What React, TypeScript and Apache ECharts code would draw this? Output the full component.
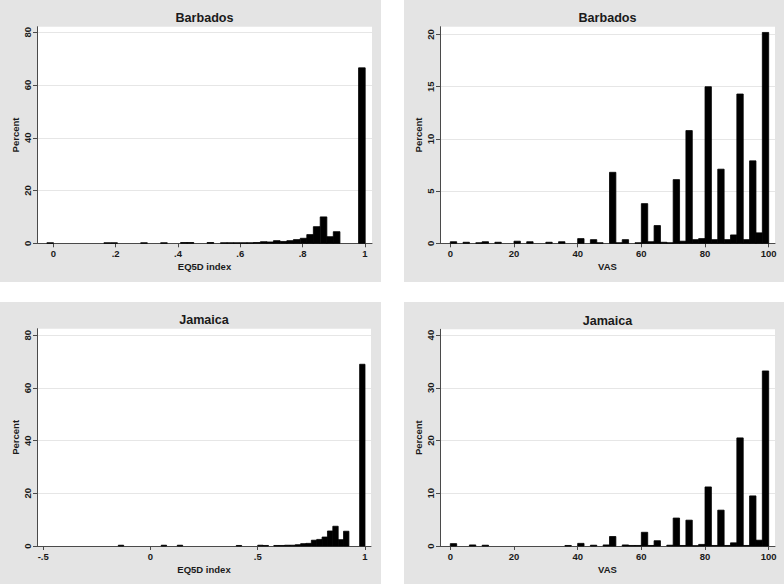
import React, { useEffect, useRef } from 'react';
import * as echarts from 'echarts';

// ---- tick values ----
const eq5dTicksBarbados = [0, 0.2, 0.4, 0.6, 0.8, 1];
const eq5dTicksJamaica = [-0.5, 0, 0.5, 1];
const vasTicks = [0, 20, 40, 60, 80, 100];
const pctTicksEq5d = [0, 20, 40, 60, 80];
const pctTicksVasBarbados = [0, 5, 10, 15, 20];
const pctTicksVasJamaica = [0, 10, 20, 30, 40];

// ---- Barbados EQ5D histogram (bin centres, percent) ----
const eq5dBarbadosBin = 0.0213;
const eq5dBarbadosX = [-0.010, 0.173, 0.195, 0.291, 0.355, 0.419, 0.440, 0.504, 0.547, 0.568, 0.589, 0.611, 0.632, 0.653, 0.675, 0.696, 0.717, 0.739, 0.760, 0.781, 0.803, 0.824, 0.845, 0.867, 0.888, 0.909, 0.990];
const eq5dBarbadosPct = [0.2, 0.2, 0.2, 0.2, 0.2, 0.3, 0.3, 0.3, 0.2, 0.2, 0.2, 0.2, 0.2, 0.3, 0.6, 0.5, 1.0, 0.7, 1.0, 1.4, 1.9, 3.3, 6.3, 10.0, 2.5, 4.4, 66.5];

// ---- Jamaica EQ5D histogram ----
const eq5dJamaicaBin = 0.025;
const eq5dJamaicaX = [-0.1375, 0.0625, 0.1375, 0.4125, 0.5125, 0.5375, 0.5875, 0.6125, 0.6375, 0.6625, 0.6875, 0.7125, 0.7375, 0.7625, 0.7875, 0.8125, 0.8375, 0.8625, 0.8875, 0.9125, 0.9875];
const eq5dJamaicaPct = [0.3, 0.3, 0.3, 0.2, 0.3, 0.2, 0.2, 0.2, 0.3, 0.3, 0.5, 0.9, 1.0, 2.2, 2.5, 3.4, 5.7, 7.5, 2.4, 5.6, 69.0];

// ---- Barbados VAS histogram ----
const vasBin = 2;
const vasBarbadosX = [1, 5, 9, 11, 15, 21, 25, 31, 35, 41, 45, 47, 51, 53, 55, 59, 61, 63, 65, 67, 69, 71, 73, 75, 77, 79, 81, 83, 85, 87, 89, 91, 93, 95, 97, 99];
const vasBarbadosPct = [0.15, 0.1, 0.05, 0.15, 0.1, 0.2, 0.15, 0.1, 0.15, 0.45, 0.35, 0.05, 6.8, 0.05, 0.35, 0.05, 3.8, 0.15, 1.7, 0.1, 0.05, 6.1, 0.2, 10.8, 0.35, 0.45, 15.0, 0.35, 7.1, 0.35, 0.8, 14.3, 0.35, 7.9, 1.0, 20.2];

// ---- Jamaica VAS histogram ----
const vasJamaicaX = [1, 7, 11, 37, 41, 45, 49, 51, 55, 57, 59, 61, 63, 65, 69, 71, 73, 75, 77, 79, 81, 83, 85, 87, 89, 91, 93, 95, 97, 99];
const vasJamaicaPct = [0.45, 0.2, 0.15, 0.1, 0.5, 0.15, 0.2, 1.8, 0.2, 0.1, 0.1, 2.6, 0.1, 1.0, 0.15, 5.3, 0.1, 4.9, 0.05, 0.3, 11.2, 0.1, 6.8, 0.1, 0.6, 20.5, 0.1, 9.5, 1.1, 33.2];

const titles = ['Barbados', 'Barbados', 'Jamaica', 'Jamaica'];
const xNames = ['EQ5D index', 'VAS', 'EQ5D index', 'VAS'];
const yName = 'Percent';

const FONT = '"Liberation Sans", Arial, Helvetica, sans-serif';
const TXT = '#1a1a1a';
const AXIS = '#4a4a4a';
const PANEL = '#e4e4e4';

const panels = [
  { x: 0, y: 0, w: 381, h: 282 },
  { x: 404, y: 0, w: 380, h: 282 },
  { x: 0, y: 302, w: 381, h: 282 },
  { x: 404, y: 302, w: 380, h: 282 },
];
const grids = [
  { left: 37, top: 26.7, width: 335, height: 216.6 },
  { left: 440, top: 26.7, width: 335, height: 216.6 },
  { left: 37, top: 328.7, width: 334, height: 217.3 },
  { left: 440, top: 329.3, width: 335, height: 216.7 },
];
const xRanges = [
  [-0.0523, 1.0225],
  [-3.24, 101.98],
  [-0.529, 1.028],
  [-3.24, 101.98],
];
const yMax = [82.1, 20.75, 82.5, 41.1];

const stataFmt = (v: number) => {
  const s = String(Math.round(v * 100) / 100);
  return s.replace(/^0\./, '.').replace(/^-0\./, '-.');
};

function xAxisCfg(i: number, ticks: number[], fmt?: (v: number) => string) {
  return {
    type: 'value',
    gridIndex: i,
    min: xRanges[i][0],
    max: xRanges[i][1],
    name: xNames[i],
    nameLocation: 'middle',
    nameGap: 18,
    nameTextStyle: { fontFamily: FONT, fontWeight: 'bold', fontSize: 9.5, color: TXT },
    axisLine: { show: true, onZero: false, lineStyle: { color: AXIS, width: 1 } },
    axisTick: { show: true, length: 4, customValues: ticks, lineStyle: { color: AXIS, width: 1 } },
    axisLabel: {
      customValues: ticks,
      formatter: fmt,
      margin: 5,
      fontSize: 9.5,
      fontWeight: 'bold',
      color: TXT,
      fontFamily: FONT,
    },
    splitLine: { show: false },
  };
}

function yAxisCfg(i: number, ticks: number[]) {
  return {
    type: 'value',
    gridIndex: i,
    min: 0,
    max: yMax[i],
    name: yName,
    nameLocation: 'middle',
    nameGap: 17,
    nameTextStyle: { fontFamily: FONT, fontWeight: 'bold', fontSize: 9.5, color: TXT },
    axisLine: { show: true, onZero: false, lineStyle: { color: AXIS, width: 1 } },
    axisTick: { show: true, length: 4, customValues: ticks, lineStyle: { color: AXIS, width: 1 } },
    axisLabel: {
      customValues: ticks,
      rotate: 90,
      margin: 5,
      fontSize: 9.5,
      fontWeight: 'bold',
      color: TXT,
      fontFamily: FONT,
    },
    splitLine: { show: true, lineStyle: { color: '#e6e6e6', width: 1 } },
  };
}

function histSeries(i: number, xs: number[], ys: number[], w: number) {
  return {
    type: 'custom',
    xAxisIndex: i,
    yAxisIndex: i,
    clip: false,
    data: xs.map((x, k) => [x, ys[k]]),
    renderItem: (_params: any, api: any) => {
      const c = api.value(0);
      const h = api.value(1);
      const a = api.coord([c - w / 2, h]);
      const b = api.coord([c + w / 2, 0]);
      return {
        type: 'rect',
        shape: { x: a[0], y: a[1], width: b[0] - a[0], height: b[1] - a[1] },
        style: { fill: '#000', stroke: '#000', lineWidth: 0.8 },
      };
    },
  };
}

export default function App() {
  const ref = useRef<HTMLDivElement>(null);
  useEffect(() => {
    if (!ref.current) return;
    const chart = echarts.init(ref.current, undefined, { renderer: 'svg' });
    const graphic: any[] = [];
    panels.forEach((p) => {
      graphic.push({ type: 'rect', z: -10, silent: true, shape: { x: p.x, y: p.y, width: p.w, height: p.h }, style: { fill: PANEL } });
    });
    grids.forEach((g, i) => {
      graphic.push({
        type: 'text',
        x: g.left + g.width / 2,
        y: g.top - 8.4,
        style: {
          text: titles[i],
          textAlign: 'center',
          textVerticalAlign: 'middle',
          fontFamily: FONT,
          fontWeight: 'bold',
          fontSize: 12.6,
          fill: TXT,
        },
      });
    });
    chart.setOption({
      animation: false,
      backgroundColor: '#fff',
      graphic,
      grid: grids.map((g) => ({ ...g, show: true, backgroundColor: '#fff', borderWidth: 0, containLabel: false })),
      xAxis: [
        xAxisCfg(0, eq5dTicksBarbados, stataFmt),
        xAxisCfg(1, vasTicks),
        xAxisCfg(2, eq5dTicksJamaica, stataFmt),
        xAxisCfg(3, vasTicks),
      ],
      yAxis: [
        yAxisCfg(0, pctTicksEq5d),
        yAxisCfg(1, pctTicksVasBarbados),
        yAxisCfg(2, pctTicksEq5d),
        yAxisCfg(3, pctTicksVasJamaica),
      ],
      series: [
        histSeries(0, eq5dBarbadosX, eq5dBarbadosPct, eq5dBarbadosBin),
        histSeries(1, vasBarbadosX, vasBarbadosPct, vasBin),
        histSeries(2, eq5dJamaicaX, eq5dJamaicaPct, eq5dJamaicaBin),
        histSeries(3, vasJamaicaX, vasJamaicaPct, vasBin),
      ],
    });
    return () => chart.dispose();
  }, []);
  return (
    <div
      ref={ref}
      style={{ position: 'fixed', left: 0, top: 0, width: 784, height: 584, background: '#fff' }}
    />
  );
}
